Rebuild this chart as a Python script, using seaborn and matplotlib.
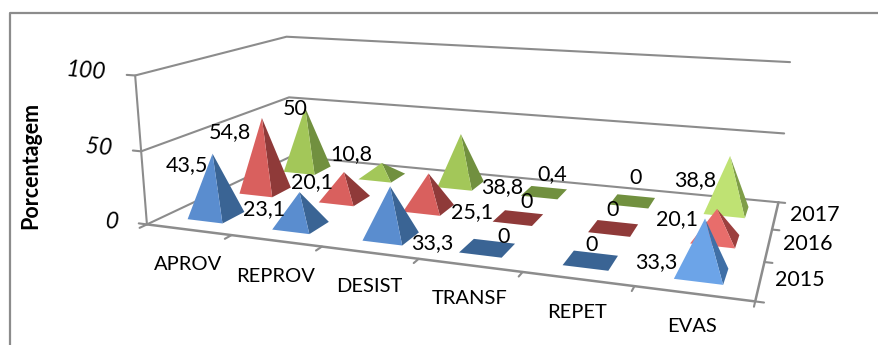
import numpy as np
import matplotlib
matplotlib.use("Agg")
import matplotlib.pyplot as plt
from matplotlib.patches import Polygon
from mpl_toolkits.mplot3d import proj3d
import seaborn as sns

CATEGORIES = ["APROV", "REPROV", "DESIST", "TRANSF", "REPET", "EVAS"]
YEARS = ["2015", "2016", "2017"]
VALUES_2015 = [43.5, 23.1, 33.3, 0, 0, 33.3]
VALUES_2016 = [54.8, 20.1, 25.1, 0, 0, 20.1]
VALUES_2017 = [50, 10.8, 38.8, 0.4, 0, 38.8]
Z_TICKS = [0, 50, 100]

# frame reference points: (category, depth, percent) -> pixel, used to fit the camera
FRAME_3D = [(0, 0, 0), (0, 0, 50), (0, 0, 100), (0, 3, 100), (0, 3, 50), (6, 3, 100), (6, 3, 50),
            (6, 3, 0), (6, 0, 0), (1, 0, 0), (2, 0, 0), (3, 0, 0), (4, 0, 0), (5, 0, 0),
            (6, 1, 0), (6, 2, 0)]
FRAME_PX = [(147, 224), (141.5, 150), (135, 75), (286.7, 36.7), (288.5, 97.7), (790, 62.7), (784.3, 134),
            (778.3, 201.7), (755, 301), (232, 235), (322, 248), (419, 260.7), (522, 272), (633, 286.7),
            (766, 261), (772, 228.5)]

# where the texts sit, in pixels
CAT_POS = [(188, 264), (276, 276), (369, 287), (470, 299), (577, 312), (692, 326)]
YEAR_POS = [(800, 280), (808, 244), (815, 215)]
ZTICK_POS = [(112, 222), (99, 148), (86, 71)]
LABEL_POS_2015 = [(187, 165), (264, 209), (432, 243), (504, 237), (592, 245), (656, 262)]
LABEL_POS_2016 = [(230, 132), (312, 182), (472, 212), (527, 202), (613, 210), (677, 219)]
LABEL_POS_2017 = [(295, 109), (351, 154), (502, 187), (552, 174), (636, 178), (695, 180)]

FRONT_COLORS = ["#5a8dcf", "#d9605e", "#a3c759"]
SIDE_COLORS = ["#3a6494", "#8f3a39", "#71903f"]
LAST_FRONT = ["#6ca4e8", "#e86d6b", "#bfe273"]
LAST_SIDE = ["#3f6fa6", "#9c3f3e", "#7f9e48"]
GRAY = "#8c8c8c"
HALF_BASE = 0.21


def fit_camera(pts3d, pts2d):
    """Least squares projection matrix from the frame corners"""
    A, b = [], []
    for (X, Y, Z), (u, v) in zip(pts3d, pts2d):
        A.append([X, Y, Z, 1, 0, 0, 0, 0, -u*X, -u*Y, -u*Z])
        A.append([0, 0, 0, 0, X, Y, Z, 1, -v*X, -v*Y, -v*Z])
        b += [u, v]
    p = np.linalg.lstsq(np.array(A, dtype=float), np.array(b, dtype=float), rcond=None)[0]
    return np.array([p[:4], p[4:8], [0, 0, 1, 0], [p[8], p[9], p[10], 1]])


M = fit_camera(FRAME_3D, FRAME_PX)


def project(points):
    xs, ys, zs = np.array(points, dtype=float).T
    u, v, _ = proj3d.proj_transform(xs, ys, zs, M)
    return np.column_stack([u, v])


def frame_line(ax, points, lw=1.5):
    px = project(points)
    sns.lineplot(x=px[:, 0], y=px[:, 1], sort=False, color=GRAY, linewidth=lw, ax=ax,
                 legend=False, errorbar=None, zorder=1)


def draw_pyramid(ax, cat, depth, value, front, side, dark):
    cx, cy = cat + 0.5, depth + 0.5
    fl = (cx - HALF_BASE, cy - HALF_BASE, 0)
    fr = (cx + HALF_BASE, cy - HALF_BASE, 0)
    br = (cx + HALF_BASE, cy + HALF_BASE, 0)
    bl = (cx - HALF_BASE, cy + HALF_BASE, 0)
    apex = (cx, cy, value)
    if value < 1:
        # flat marks only show the darker base
        ax.add_patch(Polygon(project([fl, fr, br, bl]), closed=True, fc=dark, ec="none", zorder=2))
        return
    ax.add_patch(Polygon(project([fr, br, apex]), closed=True, fc=side, ec="none", zorder=2))
    ax.add_patch(Polygon(project([fl, fr, apex]), closed=True, fc=front, ec="none", zorder=2))


sns.set_theme(style="white")
plt.rcParams["font.family"] = ["Lato", "DejaVu Sans"]

fig = plt.figure(figsize=(8.79, 3.45), dpi=100)
ax = fig.add_axes([0, 0, 1, 1])
ax.set_xlim(0, 879)
ax.set_ylim(345, 0)
ax.axis("off")

# outer chart border, cut by the picture on the right and at the bottom
ax.plot([10, 10, 879], [345, 13, 13], color=GRAY, lw=1.6, zorder=1)

# walls and floor
for z in Z_TICKS:
    frame_line(ax, [(-0.1, 0, z), (0, 0, z), (0, 3, z), (6, 3, z)])
frame_line(ax, [(0, 0, 0), (0, 0, 100)])
frame_line(ax, [(0, 0, 0), (6, 0, 0), (6, 3, 0)], lw=1.8)
for i in range(len(CATEGORIES) + 1):
    frame_line(ax, [(i, 0, 0), (i, -0.12, 0)])
for d in range(len(YEARS) + 1):
    frame_line(ax, [(6, d, 0), (6.07, d, 0)])

# pyramids, back row first
all_values = [VALUES_2015, VALUES_2016, VALUES_2017]
all_labels = [LABEL_POS_2015, LABEL_POS_2016, LABEL_POS_2017]
for s in [2, 1, 0]:
    for c, val in enumerate(all_values[s]):
        last = c == len(CATEGORIES) - 1
        draw_pyramid(ax, c, s, val,
                     LAST_FRONT[s] if last else FRONT_COLORS[s],
                     LAST_SIDE[s] if last else SIDE_COLORS[s],
                     SIDE_COLORS[s])

# value labels with a decimal comma
for s in range(3):
    for val, (x, y) in zip(all_values[s], all_labels[s]):
        txt = ("%g" % val).replace(".", ",")
        ax.text(x, y, txt, fontsize=15.5, color="black", ha="center", va="center", zorder=5)

for name, (x, y) in zip(CATEGORIES, CAT_POS):
    ax.text(x, y, name, fontsize=14.5, color="black", ha="center", va="center", zorder=5)
for name, (x, y) in zip(YEARS, YEAR_POS):
    ax.text(x, y, name, fontsize=15.5, color="black", ha="center", va="center", zorder=5)
for z, (x, y) in zip(Z_TICKS, ZTICK_POS):
    ax.text(x, y, str(z), fontsize=16.5, style="italic", rotation=-5, color="black",
            ha="center", va="center", zorder=5)
ax.text(31, 165, "Porcentagem", fontsize=15.5, fontweight="bold", rotation=90, color="black",
        ha="center", va="center", zorder=5)

fig.savefig("out.png", dpi=100, facecolor="white")
